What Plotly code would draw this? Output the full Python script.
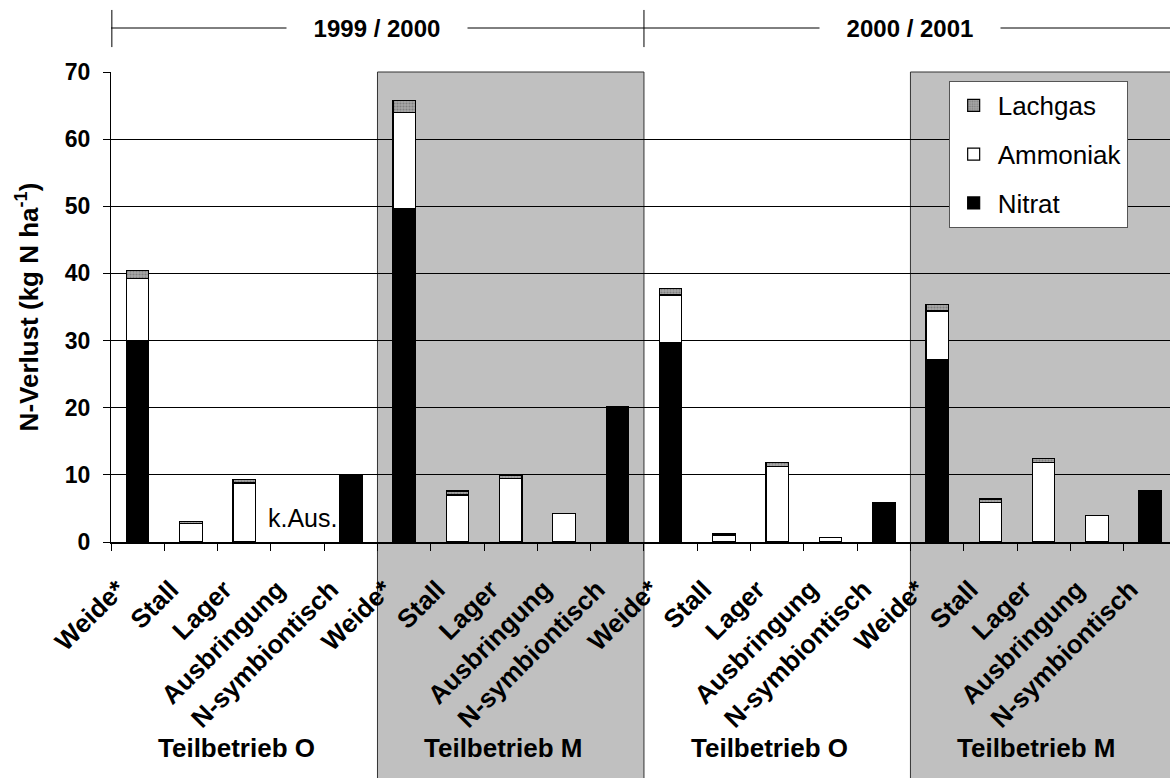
import plotly.graph_objects as go

# ---- data ----
categories = ["Weide*", "Stall", "Lager", "Ausbringung", "N-symbiontisch"] * 4
nitrat   = [30.0, None, None, None, 10.0, 49.7, None, None, None, 20.1,
            29.7, None, None, None, 5.8, 27.2, None, None, None, 7.6]
ammoniak = [9.3, 2.8, 8.8, None, None, 14.3, 7.0, 9.4, 4.3, None,
            7.1, 1.0, 11.3, 0.7, None, 7.2, 5.9, 11.8, 4.0, None]
lachgas  = [1.1, 0.2, 0.5, None, None, 1.7, 0.6, 0.5, None, None,
            0.9, 0.2, 0.6, None, None, 1.0, 0.5, 0.6, None, None]
years = ["1999 / 2000", "2000 / 2001"]
betriebe = ["Teilbetrieb O", "Teilbetrieb M", "Teilbetrieb O", "Teilbetrieb M"]
y_ticks = [0, 10, 20, 30, 40, 50, 60, 70]

FONT = "Arial, Liberation Sans, sans-serif"
x = list(range(len(categories)))
n_per_group = 5

fig = go.Figure()
line = dict(color="black", width=1.2)
fig.add_bar(x=x, y=nitrat, name="Nitrat", legendgroup="n", legendrank=3,
            marker=dict(color="black", line=line), width=0.42)
fig.add_bar(x=x, y=ammoniak, name="Ammoniak", legendgroup="a", legendrank=2,
            marker=dict(color="white", line=line), width=0.42)
fig.add_bar(x=x, y=lachgas, name="Lachgas", legendgroup="l", legendrank=1,
            marker=dict(color="#a8a8a8", line=line,
                        pattern=dict(shape=".", fgcolor="#555555", bgcolor="#a8a8a8",
                                     size=3, solidity=0.4)), width=0.42)

shapes = []
# grey backgrounds for Teilbetrieb M groups
for g, name in enumerate(betriebe):
    if name.endswith("M"):
        shapes.append(dict(type="rect", xref="x", yref="paper",
                           x0=g * n_per_group - 0.5, x1=(g + 1) * n_per_group - 0.5,
                           y0=-0.55, y1=1, fillcolor="#c0c0c0",
                           line=dict(color="#333333", width=1), layer="below"))
# header lines
shapes.append(dict(type="line", xref="paper", yref="paper", x0=0, x1=1,
                   y0=1.0936, y1=1.0936, line=dict(color="black", width=1)))
shapes.append(dict(type="line", xref="paper", yref="paper", x0=0.0008, x1=0.0008,
                   y0=1.053, y1=1.132, line=dict(color="black", width=1)))
shapes.append(dict(type="line", xref="x", yref="paper", x0=2 * n_per_group - 0.5,
                   x1=2 * n_per_group - 0.5, y0=1.053, y1=1.132,
                   line=dict(color="black", width=1)))

annotations = []
for i, yr in enumerate(years):
    annotations.append(dict(text=yr, xref="x", yref="paper",
                            x=i * 2 * n_per_group + n_per_group - 0.5, y=1.0936,
                            xanchor="center", yanchor="middle",
                            showarrow=False, bgcolor="white", width=176, borderpad=2,
                            font=dict(family=FONT, size=24, color="black", weight="bold")))
for g, name in enumerate(betriebe):
    annotations.append(dict(text=name, xref="x", yref="paper",
                            x=g * n_per_group + 1.85, y=-0.438,
                            xanchor="center", yanchor="middle", showarrow=False,
                            font=dict(family=FONT, size=26, color="black", weight="bold")))
annotations.append(dict(text="k.Aus.", xref="x", yref="y", x=3.1, y=3.6,
                        showarrow=False,
                        font=dict(family=FONT, size=25, color="black")))

fig.update_layout(
    width=1170, height=778,
    margin=dict(l=111, r=0, t=72, b=236),
    barmode="stack",
    plot_bgcolor="white", paper_bgcolor="white",
    font=dict(family=FONT, color="black"),
    shapes=shapes, annotations=annotations,
    legend=dict(x=0.791, y=0.981, xanchor="left", yanchor="top",
                bgcolor="white", bordercolor="#555555", borderwidth=1,
                font=dict(family=FONT, size=26, color="black"),
                traceorder="grouped", tracegroupgap=12, itemwidth=38),
    xaxis=dict(range=[-0.5, 19.37], tickmode="array", tickvals=x, ticktext=categories,
               tickangle=-45, ticks="", showgrid=False, zeroline=False,
               showline=True, linecolor="black", linewidth=2,
               ticklabelstandoff=20, ticklabelshift=-20,
               tickfont=dict(family=FONT, size=26, color="black", weight="bold"),
               minor=dict(tickmode="array", tickvals=[i - 0.5 for i in range(len(x) + 1)],
                          ticks="outside", ticklen=7, tickcolor="black", tickwidth=1,
                          showgrid=False)),
    yaxis=dict(range=[0, 70], tickmode="array", tickvals=y_ticks,
               showgrid=True, gridcolor="black", gridwidth=1, zeroline=False,
               showline=True, linecolor="black", linewidth=1,
               ticks="outside", ticklen=7, tickcolor="black", ticklabelstandoff=8,
               tickfont=dict(family=FONT, size=23, color="black", weight="bold"),
               title=dict(text="N-Verlust (kg N ha<sup>-1</sup>)", standoff=18,
                          font=dict(family=FONT, size=26, color="black", weight="bold"))),
)

fig.write_html("out.html", config={"displayModeBar": False},
               post_script="document.body.style.margin='0px';")
